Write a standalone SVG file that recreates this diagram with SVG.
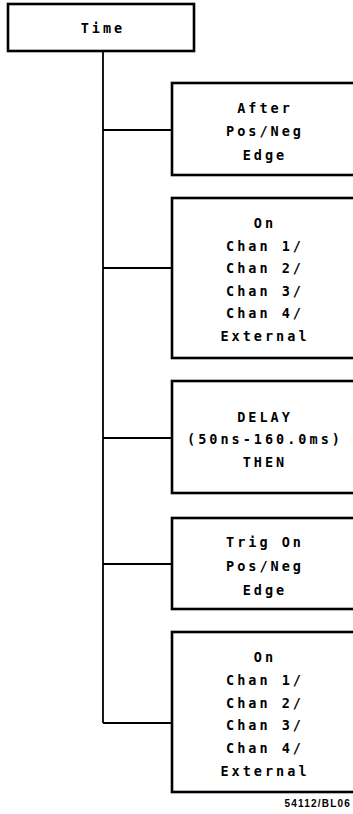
<svg xmlns="http://www.w3.org/2000/svg" width="353" height="814" viewBox="0 0 353 814">
<style>
.box{fill:#fff;stroke:#000;stroke-width:2.6}
.t{font-family:"DejaVu Sans Mono","Liberation Mono",monospace;font-size:13.5px;font-weight:bold;letter-spacing:3px;text-anchor:middle;fill:#000;dominant-baseline:central}
.c{stroke:#000;stroke-width:1.8;fill:none}
.lbl{font-family:"Liberation Sans",Arial,sans-serif;font-size:10px;font-weight:bold;letter-spacing:1.2px;fill:#000;text-anchor:end}
</style>
<g id="connectors">
<path class="c" d="M103,51 V723"/>
<path class="c" d="M103,130 H172"/>
<path class="c" d="M103,268 H172"/>
<path class="c" d="M103,438 H172"/>
<path class="c" d="M103,564 H172"/>
<path class="c" d="M103,723 H172"/>
</g>
<g id="time">
<rect class="box" x="8" y="4" width="186" height="47"/>
<text class="t" x="103" y="28">Time</text>
</g>
<g id="after">
<rect class="box" x="172" y="83" width="190" height="92"/>
<text class="t" x="265" y="108">After</text>
<text class="t" x="265" y="131">Pos/Neg</text>
<text class="t" x="265" y="155">Edge</text>
</g>
<g id="on1">
<rect class="box" x="172" y="198" width="190" height="160"/>
<text class="t" x="265" y="223">On</text>
<text class="t" x="265" y="245.5">Chan 1/</text>
<text class="t" x="265" y="268">Chan 2/</text>
<text class="t" x="265" y="290.5">Chan 3/</text>
<text class="t" x="265" y="313">Chan 4/</text>
<text class="t" x="265" y="336">External</text>
</g>
<g id="delay">
<rect class="box" x="172" y="381" width="190" height="112"/>
<text class="t" x="265" y="417">DELAY</text>
<text class="t" x="265" y="439">(50ns-160.0ms)</text>
<text class="t" x="265" y="462">THEN</text>
</g>
<g id="trig">
<rect class="box" x="172" y="518" width="190" height="91"/>
<text class="t" x="265" y="542">Trig On</text>
<text class="t" x="265" y="566">Pos/Neg</text>
<text class="t" x="265" y="590">Edge</text>
</g>
<g id="on2">
<rect class="box" x="172" y="632" width="190" height="160"/>
<text class="t" x="265" y="657">On</text>
<text class="t" x="265" y="680">Chan 1/</text>
<text class="t" x="265" y="702.5">Chan 2/</text>
<text class="t" x="265" y="725">Chan 3/</text>
<text class="t" x="265" y="748">Chan 4/</text>
<text class="t" x="265" y="771">External</text>
</g>
<text class="lbl" x="351" y="807">54112/BL06</text>
</svg>
